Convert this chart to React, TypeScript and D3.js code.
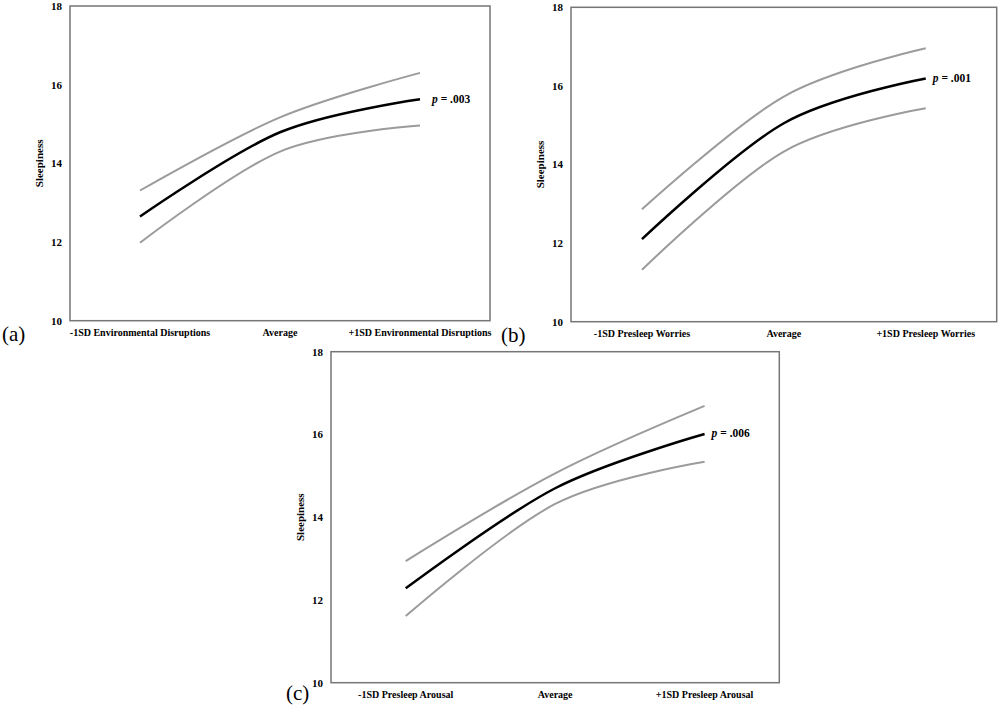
import React from 'react';
import * as d3 from 'd3';

// values (Sleepiness at -1SD / Average / +1SD)
const yTicks = [10, 12, 14, 16, 18];

const categoriesA = ['-1SD Environmental Disruptions', 'Average', '+1SD Environmental Disruptions'];
const estimateA = [12.65, 14.79, 15.63];
const upperA = [13.31, 15.17, 16.3];
const lowerA = [11.98, 14.3, 14.96];

const categoriesB = ['-1SD Presleep Worries', 'Average', '+1SD Presleep Worries'];
const estimateB = [12.1, 15.05, 16.19];
const upperB = [12.86, 15.73, 16.96];
const lowerB = [11.32, 14.33, 15.43];

const categoriesC = ['-1SD Presleep Arousal', 'Average', '+1SD Presleep Arousal'];
const estimateC = [12.28, 14.7, 16.01];
const upperC = [12.94, 15.06, 16.69];
const lowerC = [11.61, 14.32, 15.34];

const FONT = 'Times New Roman, Liberation Serif, Times, serif';

interface PanelProps {
  left: number;
  top: number;
  right: number;
  bottom: number;
  categories: string[];
  estimate: number[];
  upper: number[];
  lower: number[];
  pValue: string;
  pOffset: number;
  tag: string;
  tagX: number;
  tagY: number;
}

const Panel: React.FC<PanelProps> = ({
  left, top, right, bottom, categories, estimate, upper, lower, pValue, pOffset, tag, tagX, tagY,
}) => {
  const x = d3.scaleBand<string>().domain(categories).range([left, right]).padding(0);
  const y = d3.scaleLinear().domain([10, 18]).range([bottom, top]);
  const cx = (c: string) => (x(c) || 0) + x.bandwidth() / 2;

  const line = d3.line<number>()
    .x((_, i) => cx(categories[i]))
    .y(d => y(d))
    .curve(d3.curveCardinal.tension(0));

  const last = categories.length - 1;

  return (
    <g style={{ fontFamily: FONT }}>
      <rect x={left} y={top} width={right - left} height={bottom - top}
        fill="none" stroke="#767676" strokeWidth={1.5} />
      {yTicks.map(t => (
        <text key={t} x={left - 8} y={y(t)} dy="0.35em" textAnchor="end"
          fontSize={11} fontWeight="bold">{t}</text>
      ))}
      {categories.map(c => (
        <text key={c} x={cx(c)} y={bottom + 15} textAnchor="middle"
          fontSize={10} fontWeight="bold">{c}</text>
      ))}
      <text transform={`translate(${left - 27},${(top + bottom) / 2}) rotate(-90)`}
        textAnchor="middle" fontSize={11} fontWeight="bold">Sleepiness</text>
      <path d={line(upper) || ''} fill="none" stroke="#9b9b9b" strokeWidth={2} />
      <path d={line(lower) || ''} fill="none" stroke="#9b9b9b" strokeWidth={2} />
      <path d={line(estimate) || ''} fill="none" stroke="#000" strokeWidth={2.5} />
      <text x={cx(categories[last]) + pOffset} y={y(estimate[last])} dy="0.3em"
        fontSize={11.5} fontWeight="bold">
        <tspan fontStyle="italic">p</tspan> = {pValue}
      </text>
      <text x={tagX} y={tagY} fontSize={21}>{tag}</text>
    </g>
  );
};

export default function App() {
  return (
    <svg width={1000} height={710} style={{ position: 'absolute', left: 0, top: 0, background: '#fff' }}>
      <rect width={1000} height={710} fill="#fff" />
      <Panel left={70} top={6} right={490} bottom={320.7}
        categories={categoriesA} estimate={estimateA} upper={upperA} lower={lowerA}
        pValue=".003" pOffset={12} tag="(a)" tagX={2} tagY={341} />
      <Panel left={571} top={7.3} right={996.7} bottom={321.7}
        categories={categoriesB} estimate={estimateB} upper={upperB} lower={lowerB}
        pValue=".001" pOffset={7} tag="(b)" tagX={501} tagY={342} />
      <Panel left={331} top={351.7} right={779.3} bottom={682.7}
        categories={categoriesC} estimate={estimateC} upper={upperC} lower={lowerC}
        pValue=".006" pOffset={7} tag="(c)" tagX={286} tagY={700} />
    </svg>
  );
}
